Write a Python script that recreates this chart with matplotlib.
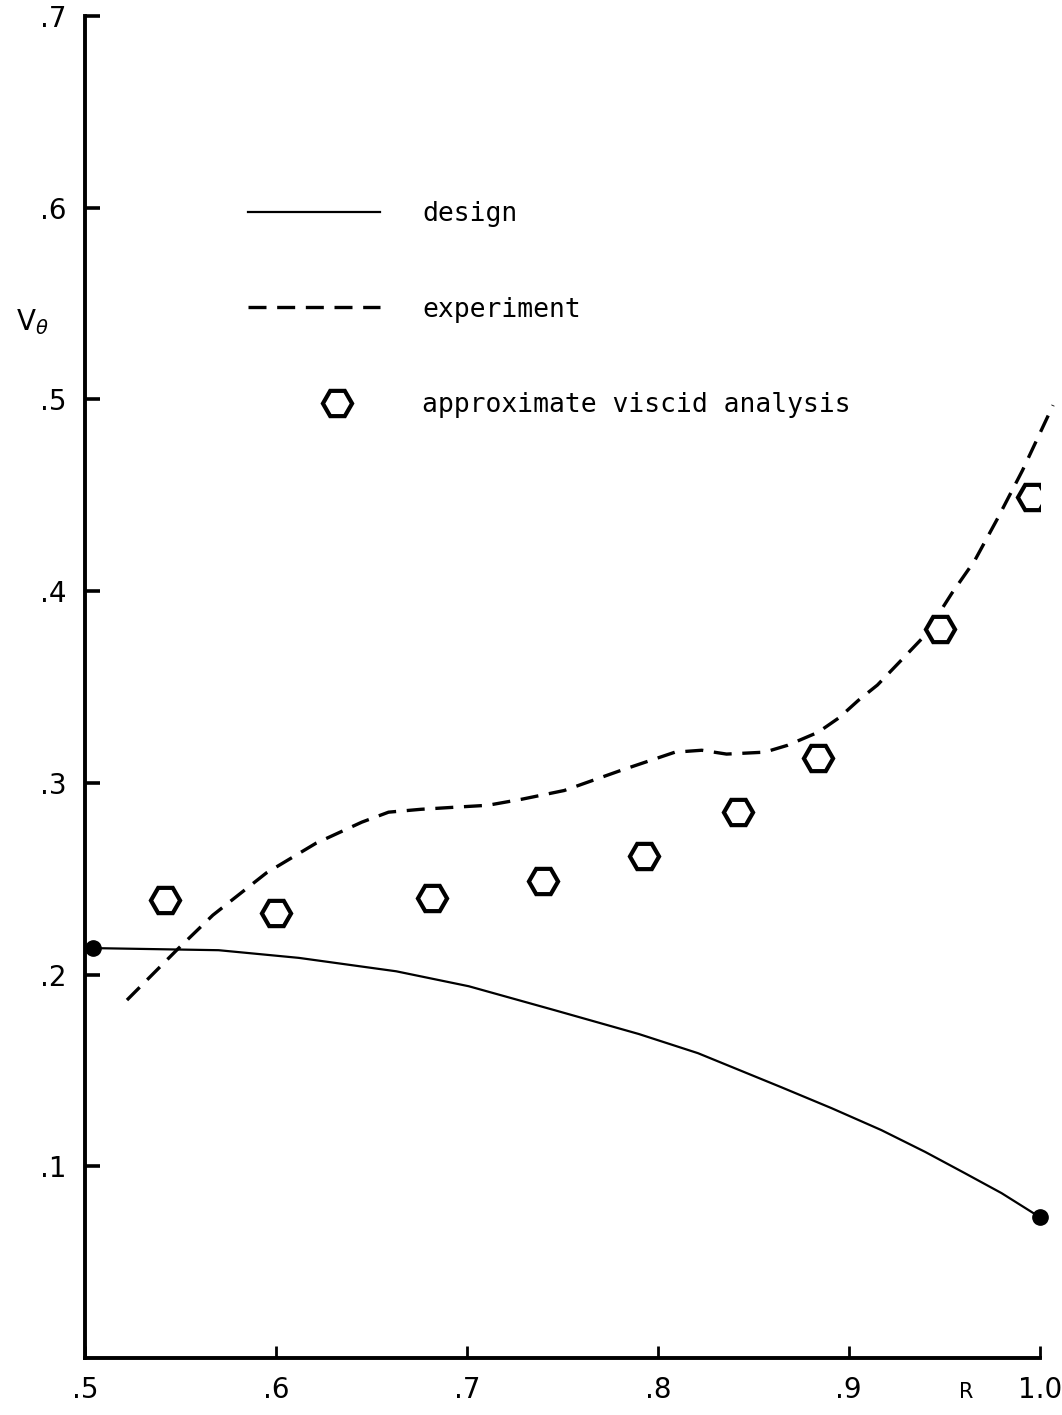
import numpy as np
import matplotlib
matplotlib.use('Agg')
import matplotlib.pyplot as plt
from matplotlib.legend_handler import HandlerLine2D

# design curve (solid), end points marked with filled dots
design_r = [0.504, 0.570, 0.612, 0.663, 0.701, 0.746, 0.790, 0.821, 0.8645,
            0.891, 0.917, 0.940, 0.9606, 0.980, 1.0]
design_v = [0.2138, 0.2127, 0.2087, 0.2017, 0.1939, 0.1814, 0.169, 0.159, 0.1413,
            0.1303, 0.1189, 0.1075, 0.0965, 0.086, 0.0735]

# experiment (dashed)
exp_r = [0.522, 0.548, 0.567, 0.595, 0.621, 0.645, 0.659, 0.676, 0.694, 0.711,
         0.729, 0.751, 0.781, 0.809, 0.823, 0.836, 0.856, 0.868, 0.884, 0.895,
         0.905, 0.915, 0.926, 0.940, 0.954, 0.966, 0.978, 0.991, 1.007]
exp_v = [0.1867, 0.2127, 0.231, 0.253, 0.2685, 0.2795, 0.2847, 0.2862, 0.2873, 0.2883,
         0.2915, 0.296, 0.3066, 0.316, 0.317, 0.315, 0.316, 0.3196, 0.3264, 0.334,
         0.343, 0.351, 0.3624, 0.377, 0.3989, 0.416, 0.438, 0.463, 0.497]

# approximate viscid analysis (hexagons)
visc_r = [0.542, 0.600, 0.682, 0.740, 0.793, 0.842, 0.884, 0.948, 0.996]
visc_v = [0.239, 0.232, 0.240, 0.249, 0.262, 0.285, 0.313, 0.380, 0.449]

x_ticks = [0.5, 0.6, 0.7, 0.8, 0.9, 1.0]
x_labels = ['.5', '.6', '.7', '.8', '.9', '1.0']
y_ticks = [0.1, 0.2, 0.3, 0.4, 0.5, 0.6, 0.7]
y_labels = ['.1', '.2', '.3', '.4', '.5', '.6', '.7']


class ShiftedMarker(HandlerLine2D):
    # legend hexagon sits a bit right of the handle centre in the original
    def create_artists(self, legend, orig_handle, xdescent, ydescent,
                       width, height, fontsize, trans):
        arts = super().create_artists(legend, orig_handle, xdescent, ydescent,
                                      width, height, fontsize, trans)
        for a in arts:
            xd = np.asarray(a.get_xdata(), dtype=float)
            a.set_xdata(xd + 0.17 * width)
        return arts


fig = plt.figure(figsize=(10.62, 14.15), dpi=100)
ax = fig.add_axes([0.080, 0.0403, 0.899, 0.9484])

ax.plot(design_r, design_v, color='black', lw=1.6, label='design')
ax.plot([design_r[0], design_r[-1]], [design_v[0], design_v[-1]], 'o',
        color='black', ms=11, clip_on=False)
ax.plot(exp_r, exp_v, color='black', lw=2.4, dashes=(5.4, 3.2),
        clip_on=False, label='experiment')
hexes, = ax.plot(visc_r, visc_v, linestyle='none', marker='H', ms=21, mfc='white',
                 mec='black', mew=3.0, label='approximate viscid analysis')

ax.set_xlim(0.5, 1.0)
ax.set_ylim(0, 0.7)
for s in ['top', 'right']:
    ax.spines[s].set_visible(False)
for s in ['left', 'bottom']:
    ax.spines[s].set_linewidth(2.8)

ax.set_xticks(x_ticks)
ax.set_xticklabels(x_labels)
ax.set_yticks(y_ticks)
ax.set_yticklabels(y_labels)
ax.tick_params(axis='both', direction='in', labelsize=20, pad=13)
ax.tick_params(axis='y', length=11, width=2.6)
ax.tick_params(axis='x', length=9, width=2.0)

ax.set_ylabel(r'V$_\theta$', rotation=0, fontsize=20, va='center')
ax.yaxis.set_label_coords(-0.055, 0.772)
ax.set_xlabel('R', fontsize=15, va='center')
ax.xaxis.set_label_coords(0.9235, -0.025)

leg = ax.legend(loc='upper left', bbox_to_anchor=(0.160, 0.870), frameon=False,
                prop={'family': 'DejaVu Sans Mono', 'size': 19},
                handlelength=5.0, handletextpad=1.6, labelspacing=2.64,
                borderaxespad=0, handler_map={hexes: ShiftedMarker()})

fig.savefig('out.png', dpi=100, facecolor='white')
